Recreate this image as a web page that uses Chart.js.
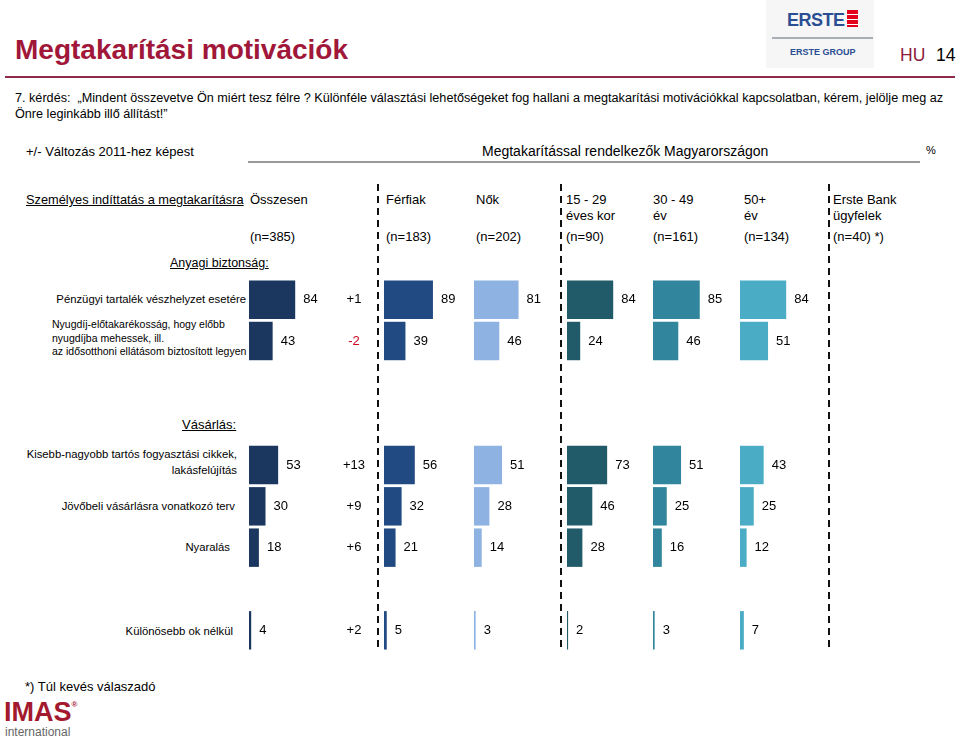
<!DOCTYPE html>
<html>
<head>
<meta charset="utf-8">
<script src="https://cdn.jsdelivr.net/npm/chart.js@4.4.1/dist/chart.umd.min.js"></script>
<style>
  body { margin: 0; background: #fff; font-family: "Liberation Sans", Arial, sans-serif; color: #000; }
  #page { position: relative; width: 959px; height: 736px; overflow: hidden; }
  .t { position: absolute; white-space: nowrap; line-height: 16px; font-size: 13px; }
  .r { text-align: right; }
  .u { text-decoration: underline; }
  .lbl { font-size: 11.3px; line-height: 13.5px; }
  canvas { position: absolute; }
  .sep { position: absolute; width: 2px; top: 184px; height: 467px;
         background: repeating-linear-gradient(to bottom, #111 0 7px, transparent 7px 12px); }
</style>
</head>
<body>
<div id="page">
  <!-- header -->
  <div class="t" style="left:15px;top:34px;font-size:28px;line-height:32px;font-weight:bold;color:#A0173A;">Megtakarítási motivációk</div>
  <div style="position:absolute;left:5px;top:76px;width:950px;height:2px;background:#8E2A48;"></div>
  <div style="position:absolute;left:766px;top:0;width:108px;height:68px;background:#F6F6F6;"></div>
  <div class="t" style="left:787px;top:10px;font-size:18px;line-height:20px;font-weight:bold;color:#2B4E93;letter-spacing:-0.5px;">ERSTE</div>
  <div style="position:absolute;left:847px;top:10px;width:11px;height:17px;background:repeating-linear-gradient(to bottom,#E2001A 0 4px,#fff 4px 5px);"></div>
  <div style="position:absolute;left:772px;top:37px;width:101px;height:2px;background:#A7AEB6;"></div>
  <div class="t" style="left:790px;top:46px;font-size:9px;line-height:12px;font-weight:bold;color:#2B4E93;">ERSTE GROUP</div>
  <div class="t" style="left:900px;top:45px;font-size:17.5px;line-height:20px;color:#8B1A3A;">HU</div>
  <div class="t" style="left:936px;top:45px;font-size:17.5px;line-height:20px;">14</div>

  <div class="t" style="left:15px;top:90px;font-size:12.65px;">7. kérdés:&nbsp; „Mindent összevetve Ön miért tesz félre ? Különféle választási lehetőségeket fog hallani a megtakarítási motivációkkal kapcsolatban, kérem, jelölje meg az</div>
  <div class="t" style="left:15px;top:106px;font-size:12.65px;">Önre leginkább illő állítást!”</div>

  <div class="t" style="left:26px;top:144px;">+/- Változás 2011-hez képest</div>
  <div class="t" style="left:482px;top:143px;font-size:14px;">Megtakarítással rendelkezők Magyarországon</div>
  <div style="position:absolute;left:248px;top:161px;width:672px;height:2px;background:#9A9A9A;"></div>
  <div class="t" style="left:926px;top:142px;font-size:11px;">%</div>

  <!-- column headers -->
  <div class="t u" style="left:26px;top:192px;font-size:12.8px;">Személyes indíttatás a megtakarításra</div>
  <div id="heads"></div>

  <div class="t u" style="left:170px;top:255px;font-size:12.5px;">Anyagi biztonság:</div>
  <div class="t u" style="left:182px;top:417px;">Vásárlás:</div>

  <!-- row labels -->
  <div class="t r lbl" style="right:713px;top:293px;">Pénzügyi tartalék vészhelyzet esetére</div>
  <div class="t lbl" style="left:52px;top:318px;font-size:10.5px;">Nyugdíj-előtakarékosság, hogy előbb<br>nyugdíjba mehessek, ill.<br>az idősotthoni ellátásom biztosított legyen</div>
  <div class="t r lbl" style="right:722px;top:446px;line-height:16px;">Kisebb-nagyobb tartós fogyasztási cikkek,<br>lakásfelújítás</div>
  <div class="t r lbl" style="right:724px;top:500px;">Jövőbeli vásárlásra vonatkozó terv</div>
  <div class="t r lbl" style="right:729px;top:541px;">Nyaralás</div>
  <div class="t r lbl" style="right:726px;top:625px;">Különösebb ok nélkül</div>

  <div class="sep" style="left:377px;"></div>
  <div class="sep" style="left:560px;"></div>
  <div class="sep" style="left:828px;"></div>

  <canvas id="c0" width="125" height="372" style="left:249px;top:279px;"></canvas>
  <canvas id="c1" width="85" height="372" style="left:384px;top:279px;"></canvas>
  <canvas id="c2" width="85" height="372" style="left:474px;top:279px;"></canvas>
  <canvas id="c3" width="85" height="372" style="left:567px;top:279px;"></canvas>
  <canvas id="c4" width="85" height="372" style="left:653px;top:279px;"></canvas>
  <canvas id="c5" width="85" height="372" style="left:740px;top:279px;"></canvas>

  <!-- footer -->
  <div class="t" style="left:25px;top:679px;">*) Túl kevés válaszadó</div>
  <div class="t" style="left:4px;top:698px;font-size:27px;line-height:28px;font-weight:bold;color:#A3192E;">IMAS<span style="font-size:8px;vertical-align:top;line-height:14px;">®</span></div>
  <div class="t" style="left:5px;top:725px;font-size:12px;line-height:14px;color:#666;">international</div>
</div>

<script>
// rows (empty strings are the spacer / sub-heading rows)
const categories = ['Pénzügyi tartalék', 'Nyugdíj', '', '', 'Kisebb-nagyobb', 'Jövőbeli', 'Nyaralás', '', 'Különösebb ok nélkül'];

const osszesen = [84, 43, null, null, 53, 30, 18, null, 4];
const valtozas = ['+1', '-2', null, null, '+13', '+9', '+6', null, '+2'];
const ferfiak  = [89, 39, null, null, 56, 32, 21, null, 5];
const nok      = [81, 46, null, null, 51, 28, 14, null, 3];
const kor1529  = [84, 24, null, null, 73, 46, 28, null, 2];
const kor3049  = [85, 46, null, null, 51, 25, 16, null, 3];
const kor50    = [84, 51, null, null, 43, 25, 12, null, 7];

const headers = [
  ['Összesen', '', '(n=385)', 250],
  ['Férfiak', '', '(n=183)', 386],
  ['Nők', '', '(n=202)', 476],
  ['15 - 29', 'éves kor', '(n=90)', 566],
  ['30 - 49', 'év', '(n=161)', 653],
  ['50+', 'év', '(n=134)', 744],
  ['Erste Bank', 'ügyfelek', '(n=40) *)', 833]
];

const PX_PER_UNIT = 0.55;

let h = '';
headers.forEach(c => {
  h += '<div class="t" style="left:' + c[3] + 'px;top:192px;">' + c[0] + '</div>';
  if (c[1]) h += '<div class="t" style="left:' + c[3] + 'px;top:208px;">' + c[1] + '</div>';
  h += '<div class="t" style="left:' + c[3] + 'px;top:229px;">' + c[2] + '</div>';
});
document.getElementById('heads').innerHTML = h;

const valueLabels = {
  id: 'valueLabels',
  afterDatasetsDraw(chart, args, opts) {
    const ctx = chart.ctx;
    const meta = chart.getDatasetMeta(0);
    const ds = chart.data.datasets[0].data;
    ctx.save();
    ctx.font = '13px "Liberation Sans", Arial, sans-serif';
    ctx.textBaseline = 'middle';
    ctx.fillStyle = '#000';
    ctx.textAlign = 'left';
    meta.data.forEach((bar, i) => {
      if (ds[i] == null) return;
      ctx.fillText(ds[i], bar.x + 8, bar.y);
    });
    if (opts.changes) {
      ctx.textAlign = 'center';
      opts.changes.forEach((c, i) => {
        if (c == null) return;
        ctx.fillStyle = c.charAt(0) === '-' ? '#D0021B' : '#000';
        ctx.fillText(c, chart.chartArea.left + 105, chart.scales.y.getPixelForValue(i));
      });
    }
    ctx.restore();
  }
};

function column(id, values, color, changes) {
  const el = document.getElementById(id);
  return new Chart(el, {
    type: 'bar',
    data: {labels: categories,
           datasets: [{data: values, backgroundColor: color, borderWidth: 0,
                       barPercentage: 0.93, categoryPercentage: 1}]},
    options: {
      indexAxis: 'y',
      responsive: false,
      animation: false,
      layout: {padding: 0},
      plugins: {legend: {display: false}, tooltip: {enabled: false},
                valueLabels: {changes: changes}},
      scales: {
        x: {display: false, min: 0, max: el.width / PX_PER_UNIT},
        y: {display: false}
      }
    },
    plugins: [valueLabels]
  });
}

column('c0', osszesen, '#1B375F', valtozas);
column('c1', ferfiak, '#214A82', null);
column('c2', nok, '#8EB2E2', null);
column('c3', kor1529, '#215B69', null);
column('c4', kor3049, '#31859C', null);
column('c5', kor50, '#4BACC6', null);
</script>
</body>
</html>
